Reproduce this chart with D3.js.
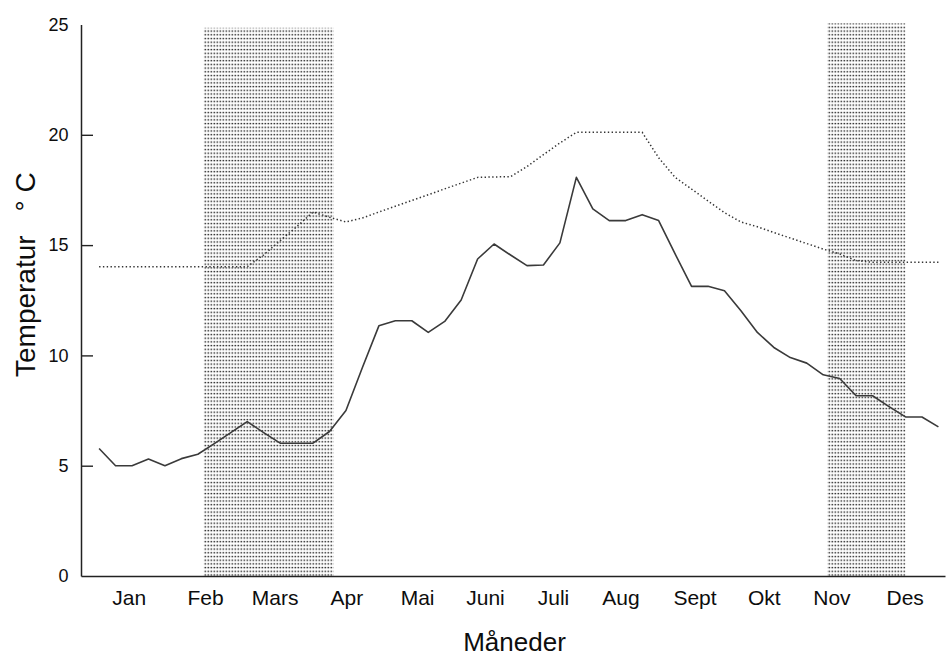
<!DOCTYPE html>
<html>
<head>
<meta charset="utf-8">
<script src="https://cdn.jsdelivr.net/npm/d3@7"></script>
<style>
  body { margin: 0; background: #fff; }
  text { font-family: "Liberation Sans", Arial, sans-serif; fill: #0d0d0d; }
</style>
</head>
<body>
<div id="chart"></div>
<script>
// weekly temperatures, week 0 .. 51
const tempSolid = [
  5.78, 5.0, 5.0, 5.3, 5.0, 5.32, 5.52, 6.0, 6.5, 7.0,
  6.5, 6.02, 6.02, 6.02, 6.55, 7.5, 9.45, 11.34, 11.57, 11.57,
  11.04, 11.54, 12.51, 14.37, 15.05, 14.55, 14.07, 14.1, 15.1, 18.07,
  16.64, 16.11, 16.11, 16.38, 16.11, 14.6, 13.13, 13.13, 12.93, 12.02,
  11.04, 10.36, 9.9, 9.65, 9.12, 8.95, 8.17, 8.17, 7.68, 7.21,
  7.21, 6.76
];
const tempDotted = [
  14.02, 14.02, 14.02, 14.02, 14.02, 14.02, 14.02, 14.02, 14.02, 14.02,
  14.56, 15.2, 15.83, 16.5, 16.26, 16.05, 16.23, 16.5, 16.76, 17.02,
  17.28, 17.55, 17.81, 18.07, 18.09, 18.1, 18.56, 19.1, 19.63, 20.11,
  20.11, 20.11, 20.11, 20.11, 18.96, 18.07, 17.54, 17.0, 16.47, 16.05,
  15.83, 15.57, 15.32, 15.07, 14.82, 14.6, 14.3, 14.22, 14.22, 14.22,
  14.22, 14.22
];

const monthLabels = ["Jan", "Feb", "Mars", "Apr", "Mai", "Juni", "Juli", "Aug", "Sept", "Okt", "Nov", "Des"];
const monthPos = [1.8, 6.44, 10.67, 15.03, 19.32, 23.45, 27.58, 31.68, 36.18, 40.39, 44.5, 48.95];

// shaded periods (in weeks) and their top value
const bandStart = [6.36, 44.24];
const bandEnd = [14.24, 49.0];
const bandTop = [24.85, 25.05];

const yTicks = [0, 5, 10, 15, 20, 25];

const width = 947, height = 657;

const svg = d3.select("#chart")
  .append("svg")
  .attr("width", width)
  .attr("height", height);

const x = d3.scaleLinear()
  .domain([-1.1, 51.4])
  .range([81, 945]);

const y = d3.scaleLinear()
  .domain([0, 25])
  .range([576, 24.5]);

// stipple for the shaded periods
const pat = svg.append("defs")
  .append("pattern")
  .attr("id", "stipple")
  .attr("patternUnits", "userSpaceOnUse")
  .attr("width", 3)
  .attr("height", 3.7);
pat.append("rect")
  .attr("x", 0.5).attr("y", 0.8)
  .attr("width", 1.7).attr("height", 1.4)
  .attr("fill", "#383838");

svg.append("g")
  .selectAll("rect")
  .data(bandStart)
  .enter().append("rect")
  .attr("x", d => x(d))
  .attr("y", (d, i) => y(bandTop[i]))
  .attr("width", (d, i) => x(bandEnd[i]) - x(d))
  .attr("height", (d, i) => y(0) - y(bandTop[i]))
  .attr("fill", "url(#stipple)");

// axes
const yAxis = svg.append("g")
  .attr("transform", `translate(${x.range()[0]},0)`)
  .call(d3.axisLeft(y)
    .tickValues(yTicks)
    .tickSizeInner(-12)
    .tickSizeOuter(0)
    .tickPadding(12.5));
yAxis.select(".domain").attr("stroke", "#222").attr("stroke-width", 1.5);
yAxis.selectAll(".tick line")
  .attr("stroke", "#222").attr("stroke-width", 1.4)
  .filter(d => d === 0 || d === 25).remove();
yAxis.selectAll(".tick text")
  .style("font-size", "18px");

const xAxis = svg.append("g")
  .attr("transform", `translate(0,${y(0)})`)
  .call(d3.axisBottom(x)
    .tickValues(monthPos)
    .tickFormat((d, i) => monthLabels[i])
    .tickSize(0)
    .tickPadding(14));
xAxis.select(".domain").attr("stroke", "#222").attr("stroke-width", 1.5);
xAxis.selectAll(".tick text")
  .style("font-size", "21px");

// lines
const line = d3.line()
  .x((d, i) => x(i))
  .y(d => y(d));

svg.append("path")
  .datum(tempDotted)
  .attr("fill", "none")
  .attr("stroke", "#333")
  .attr("stroke-width", 1.5)
  .attr("stroke-dasharray", "1.4,2.4")
  .attr("d", line);

svg.append("path")
  .datum(tempSolid)
  .attr("fill", "none")
  .attr("stroke", "#3a3a3a")
  .attr("stroke-width", 1.6)
  .attr("stroke-linejoin", "round")
  .attr("d", line);

// titles
svg.append("text")
  .attr("x", 514.5)
  .attr("y", 651)
  .attr("text-anchor", "middle")
  .style("font-size", "26px")
  .text("Måneder");

const yTitle = svg.append("text")
  .attr("transform", "translate(35,377) rotate(-90)")
  .style("font-size", "28px")
  .text("Temperatur");
yTitle.append("tspan")
  .attr("dx", 24)
  .text("° C");
</script>
</body>
</html>
